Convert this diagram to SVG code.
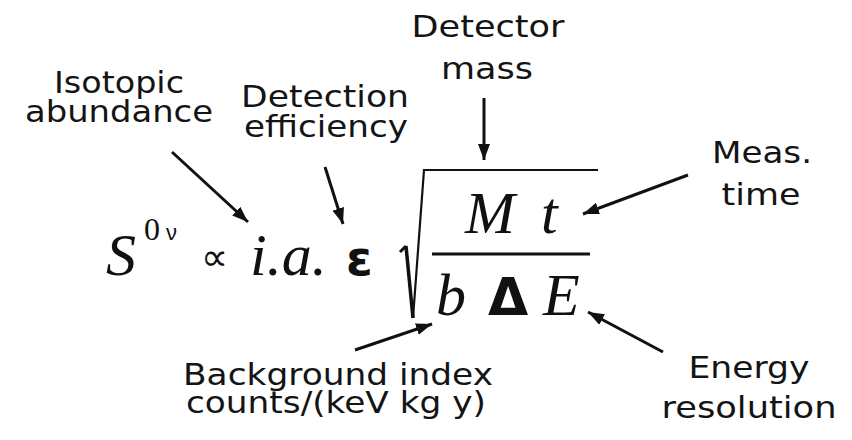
<svg xmlns="http://www.w3.org/2000/svg" width="852" height="440" viewBox="0 0 852 440">
<defs>
<style>
.lbl{font-family:"DejaVu Sans",Verdana,sans-serif;font-size:30px;fill:#141414;text-anchor:middle}
.mi{font-family:"Liberation Serif","Times New Roman",serif;font-style:italic;font-size:60px;fill:#111}
.mr{font-family:"Liberation Serif","Times New Roman",serif;font-size:32px;fill:#111}
.sy{font-family:"DejaVu Sans",sans-serif;fill:#111}
.arr{stroke:#111;stroke-width:3;fill:none;marker-end:url(#ah)}
.rule{stroke:#111;fill:none}
</style>
<marker id="ah" markerUnits="userSpaceOnUse" markerWidth="18" markerHeight="12" refX="16" refY="6" orient="auto">
<path d="M0,0 L16,6 L0,12 Z" fill="#111"/>
</marker>
</defs>
<rect width="852" height="440" fill="#fff"/>
<g id="isotopic-abundance"><text class="lbl" x="119" y="93" textLength="130" lengthAdjust="spacingAndGlyphs">Isotopic</text><text class="lbl" x="119" y="122" textLength="188" lengthAdjust="spacingAndGlyphs">abundance</text></g>
<g id="detection-efficiency"><text class="lbl" x="325" y="107" textLength="168" lengthAdjust="spacingAndGlyphs">Detection</text><text class="lbl" x="326" y="137" textLength="164" lengthAdjust="spacingAndGlyphs">efficiency</text></g>
<g id="detector-mass"><text class="lbl" x="488" y="37" textLength="153" lengthAdjust="spacingAndGlyphs">Detector</text><text class="lbl" x="487" y="79" textLength="92" lengthAdjust="spacingAndGlyphs">mass</text></g>
<g id="meas-time"><text class="lbl" x="762" y="163" textLength="100" lengthAdjust="spacingAndGlyphs">Meas.</text><text class="lbl" x="761" y="205" textLength="79" lengthAdjust="spacingAndGlyphs">time</text></g>
<g id="energy-resolution"><text class="lbl" x="749" y="378" textLength="121" lengthAdjust="spacingAndGlyphs">Energy</text><text class="lbl" x="749" y="418" textLength="175" lengthAdjust="spacingAndGlyphs">resolution</text></g>
<g id="background-index"><text class="lbl" x="338" y="385" textLength="310" lengthAdjust="spacingAndGlyphs">Background index</text><text class="lbl" x="336" y="413" textLength="300" lengthAdjust="spacingAndGlyphs">counts/(keV kg y)</text></g>
<g id="formula">
<text class="mi" x="106" y="275" font-size="62">S</text>
<text class="mr" x="144" y="240">0</text>
<text x="166" y="240" font-family="'Liberation Sans',Arial,sans-serif" font-size="22" fill="#111">ν</text>
<text class="sy" x="201" y="270" font-size="38">∝</text>
<text class="mi" x="250" y="275">i.a.</text>
<text class="sy" x="346" y="275" font-size="48" font-weight="bold">ε</text>
<path class="rule" d="M400,252 L406,246" stroke-width="3"/>
<path class="rule" d="M406,246 L413,318" stroke-width="3.5"/>
<path class="rule" d="M413,318 L424,170 L598,170" stroke-width="2.2"/>
<line class="rule" x1="432" y1="254" x2="590" y2="254" stroke-width="3"/>
<text class="mi" x="465" y="233">M</text>
<text class="mi" x="541" y="233">t</text>
<text class="mi" x="436" y="315">b</text>
<text class="sy" x="488" y="315" font-size="52" font-weight="bold">Δ</text>
<text class="mi" x="543" y="315">E</text>
</g>
<g id="connectors">
<line class="arr" x1="172" y1="152" x2="248" y2="222"/>
<line class="arr" x1="325" y1="167" x2="343" y2="224"/>
<line class="arr" x1="484" y1="98" x2="484" y2="160"/>
<line class="arr" x1="688" y1="175" x2="583" y2="214"/>
<line class="arr" x1="355" y1="350" x2="432" y2="324"/>
<line class="arr" x1="663" y1="352" x2="588" y2="312"/>
</g>
</svg>
